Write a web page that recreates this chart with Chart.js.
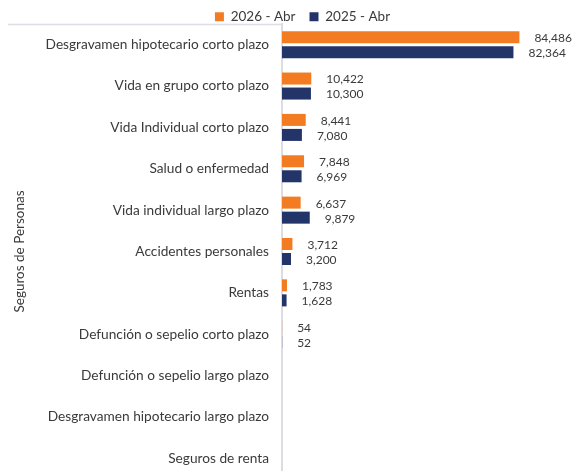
<!DOCTYPE html>
<html>
<head>
<meta charset="utf-8">
<script src="https://cdn.jsdelivr.net/npm/chart.js@4.4.1/dist/chart.umd.min.js"></script>
<style>
html,body{margin:0;padding:0;background:#fff;overflow:hidden;}
#wrap{position:relative;width:576px;height:480px;}
</style>
</head>
<body>
<div id="wrap"><canvas id="c" width="576" height="480" style="width:576px;height:480px"></canvas></div>
<script>
const categories = [
  "Desgravamen hipotecario corto plazo",
  "Vida en grupo corto plazo",
  "Vida Individual corto plazo",
  "Salud o enfermedad",
  "Vida individual largo plazo",
  "Accidentes personales",
  "Rentas",
  "Defunción o sepelio corto plazo",
  "Defunción o sepelio largo plazo",
  "Desgravamen hipotecario largo plazo",
  "Seguros de renta"
];
const seriesNames = ["2026 - Abr", "2025 - Abr"];
const values2026 = [84486, 10422, 8441, 7848, 6637, 3712, 1783, 54, null, null, null];
const values2025 = [82364, 10300, 7080, 6969, 9879, 3200, 1628, 52, null, null, null];
const axisTitle = "Seguros de Personas";

const ORANGE = "#F37C22";
const NAVY = "#233468";
const TEXT = "#3a3a3a";
const LINE = "#dcdce3";
const FONT = "Lato";

const labelPlugin = {
  id: "valueLabels",
  afterDatasetsDraw(chart) {
    const ctx = chart.ctx;
    ctx.save();
    ctx.font = "12px " + FONT;
    ctx.fillStyle = TEXT;
    ctx.textAlign = "left";
    ctx.textBaseline = "middle";
    chart.data.datasets.forEach((ds, di) => {
      const meta = chart.getDatasetMeta(di);
      meta.data.forEach((bar, i) => {
        const v = ds.data[i];
        if (v === null || v === undefined) return;
        ctx.fillText(v.toLocaleString("en-US"), bar.x + 15, bar.y + 1);
      });
    });
    ctx.restore();
  }
};

const framePlugin = {
  id: "frame",
  afterLayout(chart) {
    const lg = chart.legend;
    if (lg) {
      lg.top -= 4;
      lg.left += 17; lg.right += 17;
    }
  },
  beforeDatasetsDraw(chart) {
    const ctx = chart.ctx;
    const y = chart.scales.y;
    ctx.save();
    ctx.strokeStyle = LINE;
    ctx.lineWidth = 1.5;
    ctx.beginPath();
    ctx.moveTo(y.left, chart.chartArea.top + 0.5);
    ctx.lineTo(chart.chartArea.left, chart.chartArea.top + 0.5);
    ctx.stroke();
    ctx.restore();
  }
};

const chart = new Chart(document.getElementById("c"), {
  type: "bar",
  data: {
    labels: categories,
    datasets: [
      { label: seriesNames[0], data: values2026, backgroundColor: ORANGE, barPercentage: 0.8, categoryPercentage: 0.726 },
      { label: seriesNames[1], data: values2025, backgroundColor: NAVY, barPercentage: 0.8, categoryPercentage: 0.726 }
    ]
  },
  options: {
    indexAxis: "y",
    responsive: false,
    animation: false,
    layout: { padding: { left: 8, right: 13, top: 0, bottom: 1 } },
    plugins: {
      legend: {
        position: "top",
        align: "center",
        maxHeight: 24,
        labels: {
          boxWidth: 9, boxHeight: 9, padding: 14,
          color: TEXT,
          font: { family: FONT, size: 13.5 }
        }
      },
      tooltip: { enabled: false }
    },
    scales: {
      x: {
        display: false,
        min: 0, max: 100000
      },
      y: {
        afterFit(scale) { scale.width = 274; scale.paddingTop = 0; scale.paddingBottom = 0; },
        grid: { display: false, drawTicks: false },
        border: { display: true, color: LINE, width: 2 },
        ticks: { color: TEXT, padding: 13, font: { family: FONT, size: 13.7 } },
        title: { display: true, text: axisTitle, color: TEXT, font: { family: FONT, size: 13.5 }, padding: { top: 4, bottom: 4 } }
      }
    }
  },
  plugins: [labelPlugin, framePlugin]
});
</script>
</body>
</html>
